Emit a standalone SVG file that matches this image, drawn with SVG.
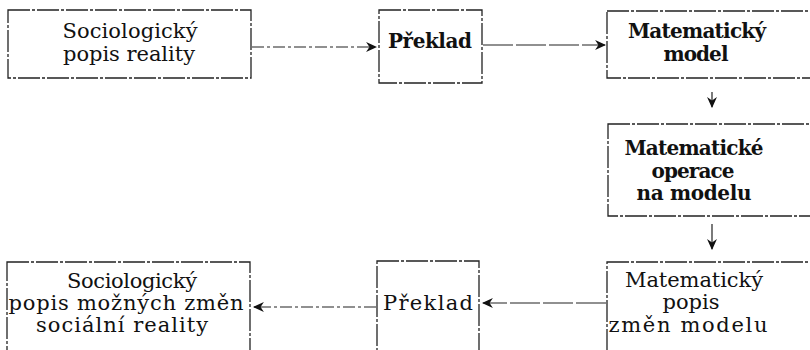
<svg xmlns="http://www.w3.org/2000/svg" width="810" height="350" viewBox="0 0 810 350">
<defs>
<marker id="ah" viewBox="0 0 10 10" refX="9" refY="5" markerWidth="11" markerHeight="11" markerUnits="userSpaceOnUse" orient="auto">
<path d="M0,0.5 L10,5 L0,9.5 L3,5 Z" fill="#111"/>
</marker>
<style>
.box{fill:none;stroke:#222;stroke-width:1.3;stroke-dasharray:22 2 3 2}
.t{font-family:"DejaVu Serif","Liberation Serif",serif;font-size:21px;fill:#111;text-anchor:middle}
.b{font-weight:bold;font-size:20px}
.c{fill:none;stroke:#222;stroke-width:1.2}
.dd{stroke-dasharray:12 3 3 3}
.ds{stroke-dasharray:30 3}
</style>
</defs>
<rect width="810" height="350" fill="#fff"/>
<g id="n1">
<rect class="box" x="8" y="10" width="243" height="68"/>
<text class="t" x="130" y="38" textLength="135" lengthAdjust="spacing">Sociologický</text>
<text class="t" x="129" y="61" textLength="132" lengthAdjust="spacing">popis reality</text>
</g>
<g id="n2">
<rect class="box" x="379" y="10" width="103" height="73"/>
<text class="t b" x="430" y="48" textLength="84" lengthAdjust="spacing">Překlad</text>
</g>
<g id="n3">
<rect class="box" x="607" y="11" width="220" height="67"/>
<text class="t b" x="697" y="38" textLength="138" lengthAdjust="spacing">Matematický</text>
<text class="t b" x="696" y="61" textLength="65" lengthAdjust="spacing">model</text>
</g>
<g id="n4">
<rect class="box" x="608" y="124" width="220" height="92"/>
<text class="t b" x="694" y="155" textLength="139" lengthAdjust="spacing">Matematické</text>
<text class="t b" x="693" y="178" textLength="83" lengthAdjust="spacing">operace</text>
<text class="t b" x="694" y="200" textLength="115" lengthAdjust="spacing">na modelu</text>
</g>
<g id="n5">
<rect class="box" x="607" y="262" width="220" height="100"/>
<text class="t" x="694" y="287" textLength="138" lengthAdjust="spacing">Matematický</text>
<text class="t" x="691" y="309" textLength="57" lengthAdjust="spacing">popis</text>
<text class="t" x="688" y="332" textLength="159" lengthAdjust="spacing">změn  modelu</text>
</g>
<g id="n6">
<rect class="box" x="377" y="261" width="102" height="100"/>
<text class="t" x="428" y="310" textLength="90" lengthAdjust="spacing">Překlad</text>
</g>
<g id="n7">
<rect class="box" x="7" y="262" width="243" height="100"/>
<text class="t" x="132" y="288" textLength="130" lengthAdjust="spacing">Sociologický</text>
<text class="t" x="126" y="310" textLength="235" lengthAdjust="spacing">popis možných změn</text>
<text class="t" x="122" y="332" textLength="172" lengthAdjust="spacing">sociální  reality</text>
</g>
<g id="connectors">
<line class="c dd" x1="252" y1="47" x2="376" y2="47" marker-end="url(#ah)"/>
<line class="c ds" x1="483" y1="45" x2="605" y2="45" marker-end="url(#ah)"/>
<line class="c ds" x1="712" y1="92" x2="712" y2="107" marker-end="url(#ah)"/>
<line class="c ds" x1="712" y1="224" x2="712" y2="249" marker-end="url(#ah)"/>
<line class="c ds" x1="606" y1="303" x2="483" y2="303" marker-end="url(#ah)"/>
<line class="c dd" x1="376" y1="307" x2="254" y2="307" marker-end="url(#ah)"/>
</g>
</svg>
